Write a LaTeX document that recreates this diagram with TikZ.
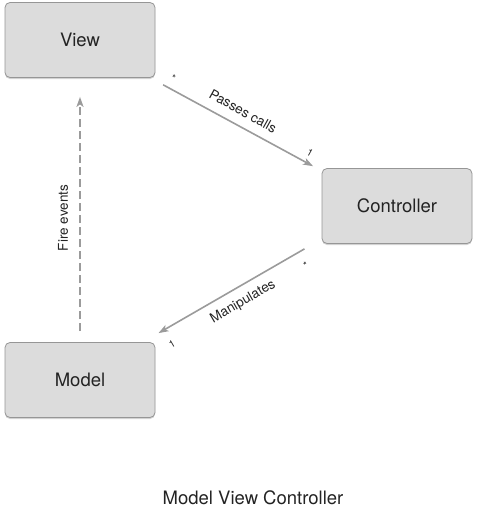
\documentclass[tikz,border=0pt]{standalone}
\usepackage{fontspec}
\setmainfont{TeX Gyre Heros}
\usepackage{tikz}
\usetikzlibrary{arrows.meta, shadows}
\definecolor{boxfill}{RGB}{220,220,220}
\definecolor{boxline}{RGB}{150,150,150}
\definecolor{arrowgray}{RGB}{155,155,155}
\definecolor{textgray}{RGB}{35,35,35}

\tikzset{
    mvcbox/.style={draw=boxline, fill=boxfill, rounded corners=5pt, line width=0.8pt,
        minimum width=150pt, minimum height=75pt, text=textgray,
        font=\fontsize{18.5}{20}\selectfont,
        drop shadow={opacity=0.35, shadow xshift=0pt, shadow yshift=-1.5pt}},
    link/.style={draw=arrowgray, line width=1.6pt, -{Stealth[length=10pt, width=7pt, inset=2.5pt]}},
    linklabel/.style={text=textgray, inner sep=1pt, font=\fontsize{13.5}{15}\selectfont},
    multlabel/.style={text=textgray, inner sep=1pt, font=\fontsize{10}{11}\selectfont}
}

\begin{document}
\begin{tikzpicture}[x=1pt, y=-1pt]

    \useasboundingbox (0,0) rectangle (477,511);

    \node(view)[mvcbox] at (80,40) {View};
    \node(ctrl)[mvcbox] at (397,206) {Controller};
    \node(model)[mvcbox] at (80,380) {Model};

    \draw[link, shorten <=14.5pt, shorten >=4pt] ([xshift=-5pt]view.south east) -- ([xshift=-5pt]ctrl.north west);
    \draw[link, shorten <=10pt, shorten >=18pt] ([xshift=-8.5pt]ctrl.south west) -- ([xshift=-12.5pt]model.north east);
    \draw[link, dash pattern=on 8pt off 4pt, shorten <=11pt, shorten >=19pt] (model.north) -- (view.south);

    \node(t1)[linklabel, rotate=-29] at (243,111) {Passes calls};
    \node(t2)[linklabel, rotate=30] at (243,302) {Manipulates};
    \node(t3)[linklabel, rotate=90] at (63,218) {Fire events};

    \node(m1)[multlabel, rotate=-29] at (173,78) {*};
    \node(m2)[multlabel, rotate=-29] at (310,153) {1};
    \node(m3)[multlabel, rotate=30] at (306,265) {*};
    \node(m4)[multlabel, rotate=30] at (172,344) {1};

    \node(title)[text=textgray, font=\fontsize{18.5}{20}\selectfont] at (253,498) {Model View Controller};
\end{tikzpicture}
\end{document}
